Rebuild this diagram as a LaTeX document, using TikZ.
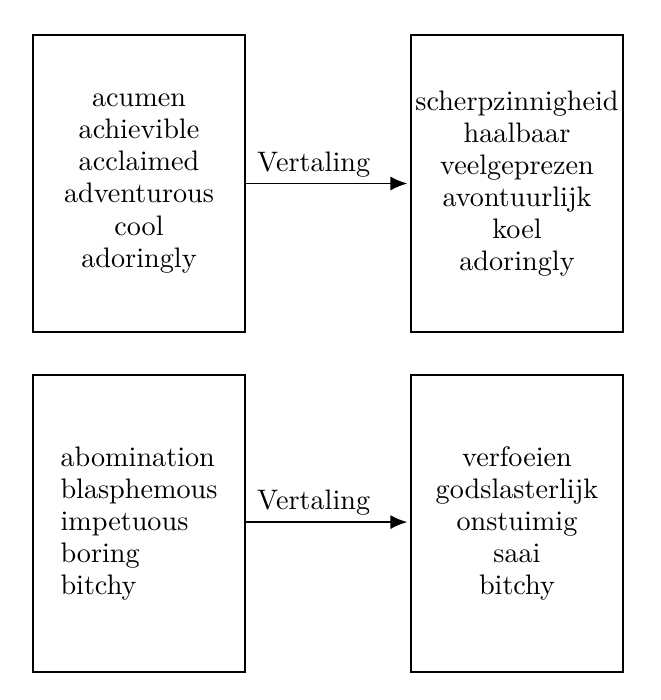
\documentclass[tikz,border=0pt]{standalone}
\usetikzlibrary{arrows.meta}
\begin{document}
\begin{tikzpicture}[x=0.3546pt,y=-0.3546pt,
  wordbox/.style={draw,line width=0.6pt,minimum width=75.2pt,minimum height=105.3pt,inner sep=0pt,align=center,font=\linespread{0.95}\selectfont},
  leftbox/.style={wordbox,align=left},
  transarrow/.style={-{Latex[length=6pt,width=5pt]},line width=0.6pt},
  translabel/.style={above,pos=0.42,inner sep=2pt}]
\useasboundingbox (0,0) rectangle (660,700);
\node[wordbox] (tl) at (139,183.5) {acumen\\achievible\\acclaimed\\adventurous\\cool\\adoringly};
\node[wordbox] (tr) at (517,183.5) {scherpzinnigheid\\haalbaar\\veelgeprezen\\avontuurlijk\\koel\\adoringly};
\node[leftbox] (bl) at (139,523.5) {abomination\\blasphemous\\impetuous\\boring\\bitchy};
\node[wordbox] (br) at (517,523.5) {verfoeien\\godslasterlijk\\onstuimig\\saai\\bitchy};
\draw[transarrow] (tl.east) -- node[translabel] (l1) {Vertaling} ([xshift=-1pt]tr.west);
\draw[transarrow] ([yshift=0.5pt]bl.east) -- node[translabel] (l2) {Vertaling} ([xshift=-1pt,yshift=0.5pt]br.west);
\end{tikzpicture}
\end{document}
